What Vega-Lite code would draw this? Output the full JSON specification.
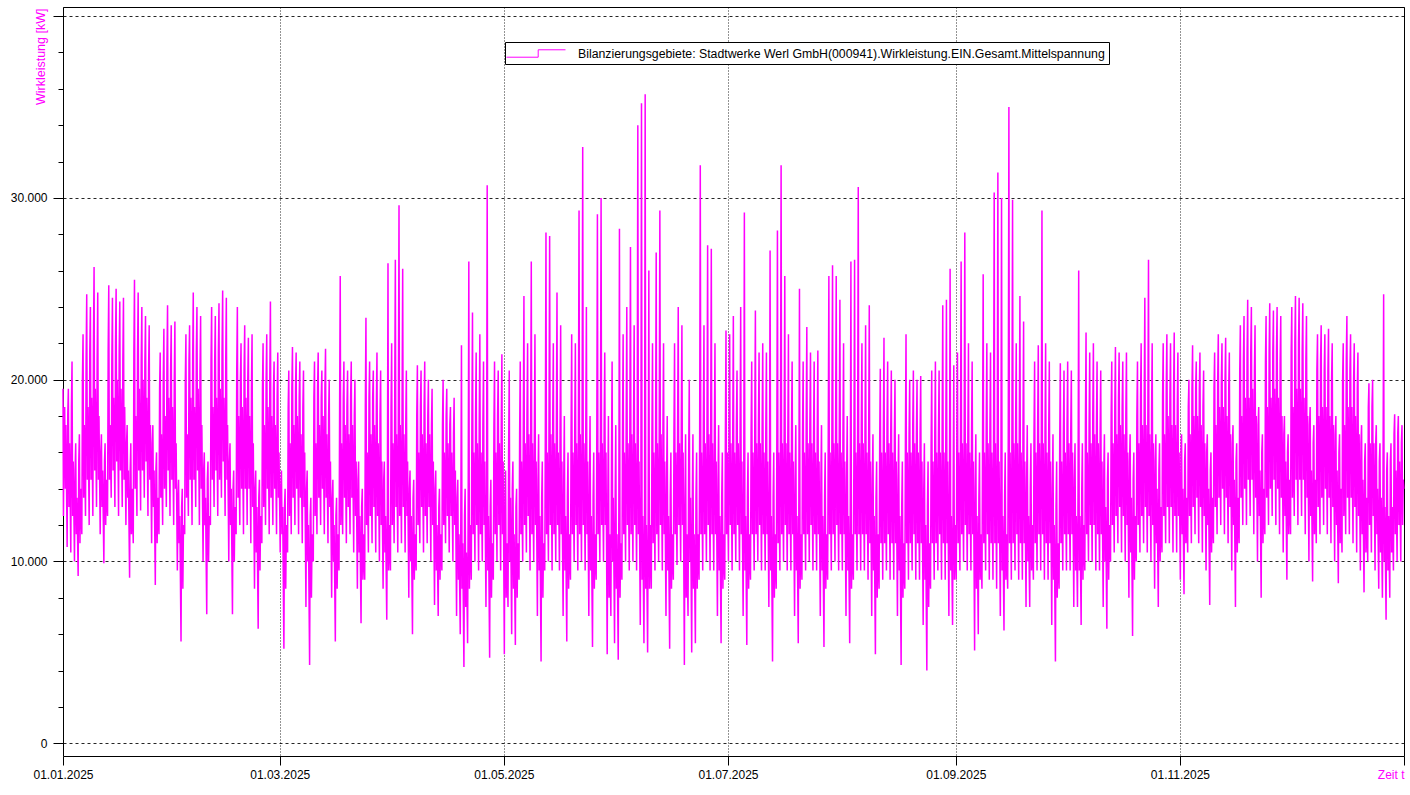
{
  "$schema": "https://vega.github.io/schema/vega-lite/v6.json",
  "width": 1341,
  "height": 749,
  "autosize": {"type": "none"},
  "padding": {"left": 63, "top": 7, "right": 6, "bottom": 39},
  "background": "white",
  "config": {
    "view": {"stroke": "black", "strokeWidth": 1},
    "font": "Liberation Sans",
    "axis": {"labelFont": "Liberation Sans", "labelFontSize": 12, "labelColor": "black", "tickColor": "black", "domainColor": "black", "titleFont": "Liberation Sans"}
  },
  "data": {
    "values": "t,v\n25010100,19500\n25010103,12500\n25010107,18000\n25010111,18500\n25010115,14000\n25010119,17500\n25010203,10800\n25010207,18000\n25010211,19500\n25010215,13000\n25010219,16500\n25010303,10500\n25010307,18500\n25010311,21000\n25010315,12500\n25010319,15500\n25010403,10000\n25010407,15000\n25010411,16500\n25010415,11500\n25010419,13500\n25010503,9200\n25010507,15500\n25010511,17000\n25010515,11000\n25010519,14000\n25010603,11500\n25010607,20000\n25010611,22500\n25010615,13500\n25010619,17500\n25010703,12500\n25010707,21000\n25010711,24700\n25010715,14500\n25010719,18500\n25010803,12000\n25010807,21500\n25010811,24000\n25010815,14500\n25010819,19000\n25010903,12500\n25010907,22000\n25010911,26200\n25010915,15000\n25010919,19500\n25011003,13000\n25011007,21000\n25011011,24800\n25011015,14500\n25011019,18000\n25011103,11500\n25011107,16000\n25011111,17000\n25011115,13000\n25011119,15000\n25011203,9900\n25011207,15500\n25011211,16500\n25011215,12000\n25011219,14500\n25011303,12500\n25011307,21500\n25011311,25200\n25011315,14500\n25011319,17500\n25011403,13500\n25011407,21000\n25011411,24500\n25011415,15000\n25011419,19000\n25011503,13000\n25011507,22000\n25011511,25000\n25011515,15500\n25011519,20000\n25011603,12500\n25011607,21500\n25011611,24300\n25011615,15000\n25011619,19500\n25011703,13000\n25011707,21000\n25011711,24500\n25011715,14500\n25011719,18500\n25011803,12000\n25011807,16500\n25011811,17500\n25011815,13500\n25011819,15000\n25011903,9100\n25011907,15000\n25011911,16500\n25011915,11500\n25011919,14000\n25012003,11000\n25012007,21500\n25012011,25500\n25012015,14000\n25012019,18000\n25012103,12500\n25012107,21500\n25012111,24800\n25012115,15000\n25012119,19500\n25012203,12800\n25012207,21000\n25012211,24000\n25012215,15000\n25012219,20000\n25012303,13500\n25012307,21000\n25012311,23500\n25012315,15500\n25012319,19000\n25012403,12500\n25012407,20500\n25012411,23000\n25012415,14500\n25012419,17500\n25012503,11000\n25012507,16500\n25012511,17500\n25012515,13000\n25012519,15000\n25012603,8700\n25012607,15000\n25012611,16000\n25012615,11000\n25012619,13500\n25012703,11500\n25012707,19500\n25012711,21500\n25012715,13500\n25012719,17000\n25012803,12000\n25012807,20000\n25012811,22800\n25012815,14000\n25012819,18000\n25012903,13000\n25012907,21000\n25012911,24100\n25012915,15000\n25012919,19000\n25013003,12500\n25013007,20500\n25013011,23000\n25013015,14500\n25013019,18500\n25013103,12000\n25013107,20000\n25013111,23200\n25013115,14000\n25013119,16500\n25020103,9500\n25020107,13500\n25020111,14500\n25020115,11000\n25020119,12500\n25020203,5600\n25020207,13000\n25020211,14000\n25020215,8500\n25020219,12000\n25020303,11500\n25020307,20000\n25020311,22500\n25020315,13500\n25020319,17000\n25020403,12500\n25020407,21000\n25020411,23000\n25020415,14500\n25020419,19000\n25020503,12000\n25020507,21000\n25020511,24800\n25020515,14500\n25020519,18500\n25020603,13000\n25020607,21500\n25020611,24000\n25020615,15000\n25020619,19500\n25020703,12000\n25020707,20500\n25020711,23500\n25020715,14000\n25020719,17500\n25020803,10000\n25020807,15000\n25020811,16000\n25020815,12000\n25020819,13500\n25020903,7100\n25020907,14500\n25020911,15500\n25020915,10000\n25020919,12500\n25021003,12000\n25021007,21000\n25021011,24000\n25021015,14500\n25021019,18500\n25021103,13000\n25021107,21000\n25021111,23500\n25021115,15000\n25021119,19000\n25021203,12500\n25021207,21500\n25021211,24200\n25021215,14500\n25021219,19500\n25021303,13500\n25021307,21500\n25021311,24900\n25021315,15500\n25021319,19000\n25021403,12500\n25021407,21000\n25021411,24500\n25021415,14500\n25021419,17500\n25021503,10000\n25021507,15500\n25021511,16500\n25021515,12000\n25021519,14000\n25021603,7100\n25021607,14000\n25021611,15000\n25021615,10000\n25021619,13000\n25021703,11500\n25021707,20500\n25021711,24000\n25021715,13500\n25021719,18000\n25021803,12000\n25021807,20000\n25021811,22000\n25021815,14000\n25021819,18500\n25021903,11500\n25021907,20500\n25021911,23000\n25021915,14000\n25021919,19000\n25022003,12000\n25022007,20000\n25022011,22300\n25022015,14000\n25022019,18000\n25022103,11000\n25022107,19500\n25022111,22500\n25022115,13000\n25022119,16500\n25022203,8500\n25022207,14000\n25022211,15000\n25022215,10500\n25022219,13000\n25022303,6300\n25022307,13500\n25022311,14500\n25022315,9500\n25022319,12500\n25022403,11000\n25022407,19500\n25022411,22000\n25022415,13000\n25022419,17500\n25022503,12000\n25022507,20000\n25022511,22500\n25022515,14000\n25022519,18500\n25022603,11500\n25022607,20000\n25022611,24300\n25022615,13500\n25022619,18000\n25022703,12000\n25022707,19500\n25022711,21000\n25022715,14000\n25022719,17500\n25022803,11500\n25022807,19000\n25022811,21500\n25022815,13500\n25022819,16000\n25030103,10500\n25030107,14000\n25030111,15000\n25030115,11500\n25030119,13000\n25030203,5200\n25030207,13000\n25030211,14000\n25030215,8500\n25030219,12000\n25030303,10500\n25030307,18500\n25030311,20500\n25030315,12500\n25030319,16500\n25030403,11500\n25030407,19500\n25030411,21800\n25030415,13500\n25030419,17500\n25030503,12000\n25030507,19500\n25030511,21500\n25030515,14000\n25030519,18000\n25030603,11500\n25030607,19000\n25030611,21000\n25030615,13500\n25030619,17000\n25030703,11000\n25030707,18500\n25030711,20500\n25030715,13000\n25030719,16000\n25030803,7500\n25030807,14000\n25030811,15000\n25030815,10000\n25030819,12000\n25030903,4300\n25030907,12500\n25030911,13500\n25030915,8000\n25030919,11500\n25031003,10000\n25031007,19000\n25031011,21000\n25031015,12500\n25031019,16500\n25031103,11500\n25031107,19500\n25031111,21500\n25031115,13500\n25031119,17500\n25031203,12000\n25031207,19000\n25031211,20500\n25031215,14000\n25031219,18000\n25031303,11500\n25031307,19500\n25031311,21700\n25031315,13500\n25031319,17000\n25031403,11000\n25031407,18000\n25031411,20000\n25031415,13000\n25031419,15500\n25031503,8000\n25031507,13500\n25031511,14500\n25031515,10000\n25031519,12000\n25031603,5600\n25031607,12500\n25031611,13500\n25031615,8500\n25031619,11500\n25031703,9500\n25031707,18500\n25031711,25700\n25031715,12000\n25031719,16500\n25031803,11500\n25031807,19000\n25031811,21000\n25031815,13500\n25031819,17500\n25031903,11000\n25031907,18500\n25031911,20500\n25031915,13000\n25031919,17000\n25032003,11500\n25032007,19000\n25032011,21000\n25032015,13500\n25032019,17500\n25032103,10500\n25032107,18000\n25032111,20000\n25032115,12500\n25032119,15500\n25032203,8500\n25032207,14500\n25032211,15500\n25032215,10500\n25032219,12500\n25032303,6600\n25032307,13000\n25032311,14000\n25032315,9000\n25032319,11500\n25032403,9000\n25032407,18500\n25032411,23400\n25032415,12000\n25032419,16000\n25032503,10500\n25032507,19000\n25032511,21000\n25032515,12500\n25032519,17000\n25032603,11000\n25032607,19000\n25032611,20500\n25032615,13000\n25032619,17500\n25032703,10500\n25032707,18500\n25032711,21500\n25032715,12500\n25032719,16500\n25032803,10000\n25032807,18000\n25032811,20500\n25032815,12000\n25032819,15500\n25032903,8500\n25032907,14500\n25032911,15500\n25032915,10500\n25032919,12500\n25033003,6800\n25033007,13500\n25033011,26400\n25033015,9500\n25033019,12000\n25033103,9500\n25033107,18500\n25033111,22000\n25033115,12000\n25033119,16500\n25040103,11000\n25040107,19000\n25040111,26600\n25040115,13000\n25040119,17000\n25040203,10500\n25040207,19000\n25040211,29600\n25040215,12500\n25040219,17500\n25040303,11000\n25040307,18500\n25040311,26100\n25040315,13000\n25040319,17000\n25040403,10500\n25040407,17500\n25040411,20500\n25040415,12500\n25040419,15500\n25040503,8000\n25040507,14000\n25040511,15000\n25040515,10000\n25040519,12500\n25040603,6000\n25040607,13500\n25040611,14500\n25040615,9000\n25040619,11500\n25040703,9500\n25040707,18000\n25040711,20800\n25040715,12000\n25040719,16000\n25040803,11000\n25040807,18500\n25040811,20500\n25040815,13000\n25040819,17000\n25040903,10500\n25040907,18500\n25040911,21000\n25040915,12500\n25040919,16500\n25041003,11000\n25041007,18000\n25041011,20000\n25041015,13000\n25041019,17000\n25041103,10000\n25041107,17500\n25041111,19500\n25041115,12000\n25041119,15500\n25041203,7600\n25041207,14000\n25041211,15000\n25041215,9500\n25041219,12000\n25041303,7000\n25041307,13000\n25041311,14000\n25041315,9000\n25041319,11500\n25041403,9500\n25041407,17500\n25041411,20000\n25041415,12000\n25041419,16000\n25041503,11000\n25041507,18000\n25041511,19500\n25041515,12500\n25041519,16500\n25041603,10500\n25041607,17500\n25041611,18500\n25041615,12500\n25041619,16000\n25041703,10000\n25041707,17000\n25041711,19000\n25041715,12000\n25041719,15000\n25041803,7000\n25041807,13500\n25041811,14500\n25041815,9000\n25041819,11500\n25041903,6000\n25041907,13000\n25041911,21900\n25041915,8500\n25041919,11000\n25042003,4200\n25042007,12500\n25042011,14000\n25042015,7500\n25042019,10500\n25042103,5500\n25042107,13500\n25042111,26500\n25042115,8500\n25042119,12000\n25042203,9000\n25042207,17500\n25042211,23700\n25042215,11500\n25042219,16000\n25042303,10000\n25042307,18000\n25042311,21500\n25042315,12000\n25042319,16500\n25042403,9500\n25042407,17500\n25042411,22500\n25042415,11500\n25042419,16000\n25042503,10000\n25042507,17500\n25042511,21000\n25042515,12000\n25042519,15500\n25042603,7500\n25042607,14000\n25042611,30700\n25042615,9500\n25042619,12500\n25042703,4700\n25042707,13000\n25042711,14500\n25042715,8000\n25042719,11000\n25042803,9000\n25042807,17500\n25042811,21000\n25042815,11500\n25042819,16000\n25042903,10000\n25042907,18000\n25042911,20500\n25042915,12000\n25042919,16500\n25043003,9500\n25043007,17500\n25043011,21400\n25043015,11500\n25043019,15500\n25050103,4900\n25050107,13500\n25050111,15000\n25050115,8000\n25050119,11000\n25050203,7500\n25050207,16000\n25050211,20500\n25050215,10000\n25050219,13500\n25050303,6000\n25050307,14000\n25050311,15500\n25050315,8500\n25050319,11500\n25050403,5400\n25050407,13000\n25050411,14000\n25050415,8000\n25050419,11000\n25050503,9000\n25050507,17000\n25050511,21000\n25050515,11500\n25050519,15500\n25050603,10000\n25050607,17500\n25050611,24600\n25050615,12000\n25050619,16500\n25050703,10500\n25050707,18000\n25050711,22000\n25050715,12500\n25050719,17000\n25050803,9500\n25050807,17500\n25050811,26500\n25050815,11500\n25050819,16500\n25050903,10000\n25050907,17000\n25050911,22500\n25050915,12000\n25050919,15500\n25051003,7000\n25051007,14500\n25051011,17000\n25051015,9500\n25051019,12500\n25051103,4500\n25051107,13500\n25051111,15500\n25051115,8000\n25051119,11000\n25051203,9500\n25051207,17500\n25051211,28100\n25051215,11500\n25051219,16000\n25051303,10000\n25051307,18000\n25051311,27900\n25051315,12000\n25051319,17000\n25051403,9500\n25051407,17500\n25051411,22000\n25051415,11500\n25051419,16500\n25051503,10000\n25051507,17500\n25051511,24800\n25051515,12000\n25051519,16000\n25051603,9500\n25051607,17000\n25051611,23000\n25051615,11500\n25051619,15500\n25051703,7000\n25051707,14500\n25051711,18000\n25051715,9500\n25051719,12500\n25051803,5600\n25051807,13500\n25051811,16000\n25051815,8500\n25051819,11500\n25051903,9000\n25051907,17000\n25051911,22500\n25051915,11500\n25051919,16000\n25052003,10000\n25052007,17500\n25052011,22000\n25052015,12000\n25052019,16500\n25052103,9500\n25052107,17500\n25052111,29300\n25052115,11500\n25052119,17000\n25052203,10000\n25052207,17500\n25052211,32800\n25052215,12000\n25052219,16500\n25052303,9500\n25052307,17000\n25052311,24000\n25052315,11500\n25052319,15500\n25052403,7000\n25052407,14500\n25052411,18000\n25052415,9500\n25052419,12500\n25052503,5300\n25052507,13500\n25052511,16000\n25052515,8500\n25052519,11500\n25052603,9000\n25052607,17000\n25052611,29100\n25052615,11500\n25052619,16000\n25052703,10000\n25052707,17500\n25052711,30000\n25052715,12000\n25052719,16500\n25052803,10000\n25052807,17500\n25052811,21500\n25052815,12000\n25052819,16000\n25052903,4900\n25052907,13500\n25052911,18000\n25052915,8000\n25052919,11500\n25053003,7000\n25053007,15500\n25053011,21000\n25053015,10000\n25053019,13500\n25053103,5500\n25053107,13500\n25053111,17500\n25053115,8500\n25053119,11500\n25060103,4600\n25060107,13000\n25060111,28300\n25060115,8000\n25060119,11000\n25060203,9000\n25060207,17000\n25060211,22500\n25060215,11500\n25060219,16000\n25060303,10000\n25060307,17500\n25060311,24000\n25060315,12000\n25060319,16500\n25060403,9500\n25060407,17500\n25060411,27300\n25060415,11500\n25060419,17000\n25060503,10000\n25060507,17500\n25060511,23000\n25060515,12000\n25060519,16500\n25060603,9500\n25060607,17000\n25060611,34000\n25060615,11500\n25060619,15500\n25060703,6500\n25060707,14000\n25060711,35200\n25060715,9000\n25060719,12500\n25060803,5500\n25060807,13500\n25060811,35700\n25060815,8500\n25060819,12000\n25060903,5000\n25060907,13500\n25060911,26000\n25060915,8500\n25060919,12000\n25061003,8500\n25061007,16500\n25061011,22000\n25061015,11000\n25061019,16000\n25061103,9500\n25061107,17000\n25061111,27000\n25061115,11500\n25061119,16500\n25061203,10000\n25061207,17500\n25061211,29300\n25061215,12000\n25061219,17000\n25061303,9500\n25061307,17000\n25061311,22000\n25061315,11500\n25061319,15500\n25061403,7000\n25061407,14500\n25061411,18000\n25061415,9500\n25061419,12500\n25061503,5200\n25061507,13500\n25061511,16000\n25061515,8500\n25061519,11500\n25061603,9000\n25061607,17000\n25061611,22000\n25061615,11500\n25061619,16000\n25061703,9800\n25061707,17500\n25061711,24000\n25061715,12000\n25061719,16500\n25061803,10000\n25061807,17500\n25061811,23000\n25061815,12000\n25061819,16000\n25061903,4300\n25061907,13500\n25061911,17000\n25061915,8000\n25061919,11500\n25062003,7000\n25062007,15500\n25062011,20000\n25062015,10000\n25062019,13500\n25062103,5000\n25062107,13500\n25062111,17000\n25062115,8500\n25062119,11500\n25062203,5500\n25062207,13500\n25062211,16000\n25062215,8500\n25062219,11500\n25062303,9000\n25062307,17000\n25062311,31800\n25062315,11500\n25062319,16000\n25062403,9500\n25062407,17500\n25062411,23000\n25062415,11500\n25062419,16500\n25062503,10000\n25062507,17500\n25062511,27400\n25062515,12000\n25062519,17000\n25062603,9500\n25062607,17500\n25062611,27200\n25062615,11500\n25062619,16500\n25062703,9500\n25062707,17000\n25062711,22000\n25062715,11500\n25062719,15500\n25062803,7000\n25062807,14500\n25062811,17500\n25062815,9500\n25062819,12500\n25062903,5500\n25062907,13500\n25062911,16000\n25062915,8500\n25062919,11500\n25063003,9000\n25063007,17000\n25063011,22700\n25063015,11500\n25063019,16000\n25070103,10000\n25070107,17500\n25070111,22500\n25070115,12000\n25070119,16500\n25070203,9500\n25070207,17000\n25070211,23500\n25070215,11500\n25070219,16000\n25070303,10000\n25070307,17500\n25070311,20500\n25070315,12000\n25070319,16500\n25070403,9500\n25070407,17000\n25070411,24000\n25070415,11500\n25070419,15500\n25070503,7000\n25070507,14500\n25070511,29200\n25070515,9500\n25070519,12500\n25070603,5400\n25070607,13500\n25070611,16000\n25070615,8500\n25070619,11500\n25070703,9000\n25070707,17000\n25070711,21000\n25070715,11500\n25070719,16000\n25070803,9500\n25070807,17500\n25070811,23800\n25070815,11500\n25070819,16500\n25070903,10000\n25070907,17500\n25070911,21500\n25070915,12000\n25070919,16500\n25071003,9500\n25071007,17000\n25071011,22000\n25071015,11500\n25071019,16000\n25071103,9500\n25071107,17000\n25071111,21500\n25071115,11500\n25071119,15500\n25071203,7500\n25071207,14500\n25071211,27100\n25071215,9500\n25071219,12500\n25071303,4500\n25071307,13500\n25071311,16000\n25071315,8000\n25071319,11500\n25071403,8500\n25071407,16500\n25071411,28200\n25071415,11000\n25071419,16000\n25071503,9500\n25071507,17500\n25071511,31800\n25071515,11500\n25071519,16500\n25071603,10000\n25071607,17500\n25071611,25700\n25071615,12000\n25071619,16500\n25071703,9500\n25071707,17000\n25071711,22500\n25071715,11500\n25071719,16000\n25071803,9500\n25071807,17000\n25071811,21000\n25071815,11500\n25071819,15500\n25071903,7000\n25071907,14500\n25071911,17500\n25071915,9500\n25071919,12500\n25072003,5500\n25072007,13500\n25072011,25000\n25072015,8500\n25072019,11500\n25072103,9000\n25072107,17000\n25072111,21000\n25072115,11500\n25072119,16000\n25072203,9500\n25072207,17500\n25072211,22900\n25072215,11500\n25072219,16500\n25072303,10000\n25072307,17500\n25072311,21500\n25072315,12000\n25072319,16500\n25072403,9500\n25072407,17000\n25072411,21000\n25072415,11500\n25072419,16000\n25072503,9500\n25072507,17000\n25072511,21600\n25072515,11500\n25072519,15500\n25072603,7000\n25072607,14500\n25072611,17500\n25072615,9500\n25072619,12500\n25072703,5300\n25072707,13500\n25072711,16000\n25072715,8500\n25072719,11500\n25072803,9000\n25072807,17000\n25072811,25700\n25072815,11500\n25072819,16000\n25072903,9500\n25072907,17500\n25072911,26300\n25072915,11500\n25072919,16500\n25073003,10000\n25073007,17500\n25073011,25700\n25073015,12000\n25073019,16500\n25073103,9500\n25073107,17000\n25073111,24400\n25073115,11500\n25073119,16000\n25080103,9500\n25080107,17000\n25080111,22000\n25080115,11500\n25080119,15500\n25080203,7000\n25080207,14500\n25080211,18000\n25080215,9500\n25080219,12500\n25080303,5500\n25080307,13500\n25080311,26500\n25080315,8500\n25080319,11500\n25080403,9000\n25080407,17000\n25080411,26600\n25080415,11500\n25080419,16000\n25080503,9500\n25080507,17500\n25080511,30600\n25080515,11500\n25080519,16500\n25080603,9500\n25080607,17500\n25080611,22000\n25080615,11500\n25080619,16500\n25080703,9500\n25080707,17000\n25080711,23000\n25080715,11500\n25080719,16000\n25080803,9000\n25080807,17000\n25080811,24100\n25080815,11000\n25080819,15500\n25080903,7000\n25080907,14500\n25080911,17000\n25080915,9500\n25080919,12500\n25081003,4900\n25081007,13500\n25081011,15500\n25081015,8000\n25081019,11500\n25081103,8500\n25081107,16500\n25081111,20600\n25081115,11000\n25081119,16000\n25081203,9000\n25081207,17000\n25081211,22300\n25081215,11000\n25081219,16000\n25081303,9500\n25081307,17500\n25081311,21000\n25081315,11500\n25081319,16500\n25081403,9000\n25081407,17000\n25081411,20500\n25081415,11000\n25081419,16000\n25081503,9000\n25081507,17000\n25081511,20000\n25081515,11000\n25081519,15500\n25081603,7000\n25081607,14500\n25081611,17000\n25081615,9500\n25081619,12500\n25081703,4300\n25081707,13000\n25081711,15500\n25081715,8000\n25081719,11000\n25081803,8500\n25081807,16500\n25081811,22500\n25081815,11000\n25081819,16000\n25081903,9000\n25081907,17000\n25081911,20000\n25081915,11000\n25081919,16000\n25082003,9500\n25082007,17500\n25082011,20500\n25082015,11500\n25082019,16500\n25082103,9000\n25082107,17000\n25082111,20000\n25082115,11000\n25082119,16000\n25082203,9000\n25082207,17000\n25082211,20200\n25082215,11000\n25082219,15500\n25082303,6500\n25082307,14000\n25082311,16500\n25082315,9000\n25082319,12000\n25082403,4000\n25082407,13000\n25082411,15500\n25082415,7500\n25082419,11000\n25082503,8500\n25082507,16500\n25082511,20500\n25082515,11000\n25082519,15500\n25082603,9000\n25082607,17000\n25082611,21000\n25082615,11000\n25082619,16000\n25082703,9500\n25082707,17000\n25082711,20500\n25082715,11500\n25082719,16000\n25082803,9000\n25082807,17000\n25082811,24100\n25082815,11000\n25082819,16000\n25082903,9000\n25082907,17000\n25082911,24400\n25082915,11000\n25082919,15500\n25083003,7000\n25083007,14500\n25083011,26100\n25083015,9500\n25083019,12500\n25083103,6500\n25083107,14000\n25083111,20800\n25083115,9000\n25083119,12000\n25090103,9000\n25090107,17000\n25090111,21500\n25090115,11000\n25090119,16000\n25090203,9500\n25090207,17500\n25090211,26500\n25090215,11500\n25090219,16500\n25090303,10000\n25090307,17500\n25090311,28100\n25090315,12000\n25090319,16500\n25090403,9500\n25090407,17000\n25090411,22000\n25090415,11500\n25090419,16000\n25090503,9500\n25090507,17000\n25090511,21000\n25090515,11500\n25090519,15500\n25090603,5100\n25090607,14000\n25090611,17000\n25090615,8500\n25090619,12500\n25090703,6000\n25090707,13500\n25090711,16000\n25090715,9000\n25090719,11500\n25090803,8500\n25090807,16500\n25090811,25800\n25090815,11000\n25090819,16000\n25090903,9500\n25090907,17500\n25090911,22000\n25090915,11500\n25090919,16500\n25091003,9000\n25091007,17000\n25091011,21500\n25091015,11000\n25091019,16000\n25091103,9000\n25091107,17500\n25091111,30300\n25091115,11000\n25091119,16500\n25091203,8500\n25091207,17000\n25091211,31400\n25091215,11000\n25091219,15500\n25091303,7000\n25091307,14500\n25091311,30000\n25091315,9500\n25091319,12500\n25091403,6200\n25091407,13500\n25091411,16000\n25091415,9000\n25091419,11500\n25091503,8500\n25091507,17000\n25091511,35000\n25091515,11000\n25091519,16000\n25091603,9000\n25091607,17500\n25091611,29900\n25091615,11000\n25091619,16500\n25091703,9500\n25091707,17500\n25091711,22000\n25091715,11500\n25091719,16500\n25091803,9000\n25091807,17000\n25091811,24600\n25091815,11000\n25091819,16000\n25091903,9000\n25091907,17000\n25091911,23200\n25091915,11000\n25091919,15500\n25092003,7500\n25092007,14500\n25092011,17500\n25092015,10000\n25092019,12500\n25092103,7500\n25092107,14000\n25092111,16500\n25092115,9500\n25092119,12000\n25092203,9000\n25092207,17000\n25092211,21000\n25092215,11000\n25092219,16000\n25092303,9500\n25092307,17500\n25092311,21900\n25092315,11500\n25092319,16500\n25092403,9500\n25092407,17500\n25092411,29300\n25092415,11500\n25092419,16500\n25092503,9000\n25092507,17000\n25092511,22000\n25092515,11000\n25092519,16000\n25092603,9000\n25092607,17000\n25092611,21000\n25092615,11000\n25092619,15500\n25092703,6500\n25092707,14000\n25092711,17000\n25092715,9000\n25092719,12000\n25092803,4500\n25092807,13000\n25092811,15500\n25092815,8000\n25092819,11000\n25092903,8500\n25092907,16500\n25092911,20900\n25092915,11000\n25092919,15500\n25093003,9500\n25093007,17000\n25093011,20500\n25093015,11500\n25093019,16000\n25100103,9500\n25100107,17500\n25100111,21000\n25100115,11500\n25100119,16500\n25100203,9500\n25100207,17000\n25100211,20500\n25100215,11500\n25100219,16000\n25100303,7500\n25100307,14500\n25100311,16500\n25100315,9500\n25100319,12500\n25100403,7500\n25100407,14500\n25100411,26000\n25100415,9500\n25100419,12500\n25100503,6500\n25100507,14000\n25100511,16500\n25100515,9000\n25100519,12000\n25100603,9500\n25100607,17500\n25100611,22600\n25100615,11500\n25100619,16000\n25100703,10000\n25100707,17500\n25100711,21500\n25100715,12000\n25100719,16500\n25100803,10000\n25100807,18000\n25100811,22000\n25100815,12000\n25100819,17000\n25100903,9500\n25100907,17500\n25100911,21000\n25100915,11500\n25100919,16500\n25101003,9500\n25101007,17000\n25101011,20500\n25101015,11500\n25101019,15500\n25101103,7500\n25101107,15000\n25101111,17000\n25101115,10000\n25101119,13000\n25101203,6300\n25101207,14500\n25101211,16000\n25101215,9000\n25101219,12000\n25101303,10000\n25101307,18000\n25101311,21000\n25101315,12000\n25101319,16500\n25101403,10500\n25101407,18500\n25101411,21800\n25101415,12500\n25101419,17000\n25101503,11000\n25101507,19000\n25101511,21500\n25101515,13000\n25101519,17500\n25101603,10500\n25101607,18500\n25101611,21000\n25101615,12500\n25101619,17000\n25101703,10000\n25101707,18000\n25101711,21500\n25101715,12000\n25101719,16000\n25101803,8000\n25101807,15500\n25101811,17000\n25101815,10500\n25101819,13500\n25101903,5900\n25101907,14500\n25101911,16000\n25101915,9000\n25101919,12500\n25102003,10000\n25102007,18000\n25102011,21000\n25102015,12000\n25102019,16500\n25102103,10500\n25102107,19000\n25102111,22000\n25102115,12500\n25102119,17500\n25102203,11000\n25102207,19000\n25102211,24500\n25102215,13000\n25102219,17500\n25102303,10500\n25102307,18500\n25102311,26600\n25102315,12500\n25102319,17000\n25102403,10000\n25102407,18000\n25102411,22000\n25102415,12000\n25102419,16500\n25102503,8500\n25102507,15500\n25102511,17000\n25102515,11000\n25102519,14000\n25102603,7500\n25102607,15000\n25102611,16500\n25102615,10000\n25102619,13000\n25102703,10500\n25102707,19000\n25102711,22000\n25102715,12500\n25102719,17000\n25102803,11000\n25102807,19500\n25102811,22500\n25102815,13000\n25102819,18000\n25102903,11000\n25102907,19000\n25102911,22000\n25102915,13000\n25102919,17500\n25103003,10500\n25103007,19500\n25103011,22600\n25103015,12500\n25103019,17500\n25103103,10500\n25103107,18500\n25103111,21500\n25103115,12500\n25103119,16000\n25110103,9000\n25110107,16000\n25110111,17000\n25110115,11500\n25110119,14000\n25110203,8200\n25110207,15500\n25110211,16500\n25110215,11000\n25110219,13500\n25110303,10500\n25110307,18500\n25110311,20000\n25110315,12500\n25110319,17000\n25110403,11000\n25110407,19500\n25110411,21900\n25110415,13000\n25110419,18000\n25110503,11500\n25110507,19500\n25110511,21000\n25110515,13500\n25110519,18000\n25110603,11000\n25110607,19500\n25110611,21500\n25110615,13000\n25110619,17500\n25110703,10500\n25110707,18500\n25110711,20500\n25110715,12500\n25110719,16500\n25110803,9500\n25110807,16000\n25110811,17000\n25110815,12000\n25110819,14000\n25110903,7600\n25110907,15000\n25110911,16000\n25110915,10500\n25110919,13500\n25111003,11000\n25111007,19500\n25111011,21500\n25111015,13000\n25111019,17500\n25111103,11500\n25111107,20000\n25111111,22500\n25111115,13500\n25111119,18500\n25111203,12000\n25111207,20000\n25111211,22000\n25111215,14000\n25111219,18500\n25111303,11500\n25111307,20000\n25111311,22300\n25111315,13500\n25111319,18000\n25111403,11000\n25111407,19500\n25111411,21500\n25111415,13000\n25111419,17000\n25111503,9500\n25111507,16500\n25111511,17500\n25111515,12000\n25111519,14500\n25111603,7500\n25111607,15500\n25111611,16500\n25111615,10500\n25111619,13500\n25111703,11000\n25111707,20500\n25111711,23000\n25111715,13500\n25111719,18000\n25111803,12000\n25111807,21000\n25111811,23500\n25111815,14000\n25111819,19000\n25111903,12000\n25111907,21500\n25111911,24400\n25111915,14500\n25111919,19000\n25112003,12500\n25112007,21500\n25112011,24000\n25112015,14500\n25112019,19500\n25112103,11500\n25112107,20500\n25112111,23000\n25112115,13500\n25112119,18000\n25112203,10000\n25112207,17500\n25112211,18500\n25112215,12500\n25112219,15000\n25112303,8000\n25112307,16000\n25112311,17000\n25112315,11000\n25112319,14000\n25112403,11500\n25112407,21000\n25112411,23500\n25112415,13500\n25112419,18500\n25112503,12000\n25112507,21500\n25112511,24200\n25112515,14000\n25112519,19000\n25112603,12500\n25112607,21500\n25112611,23800\n25112615,14500\n25112619,19500\n25112703,12000\n25112707,21500\n25112711,24000\n25112715,14000\n25112719,19000\n25112803,11500\n25112807,21000\n25112811,23500\n25112815,13500\n25112819,18000\n25112903,10500\n25112907,17000\n25112911,18000\n25112915,12500\n25112919,15500\n25113003,9000\n25113007,16000\n25113011,17000\n25113015,11500\n25113019,14500\n25120103,11500\n25120107,21500\n25120111,24000\n25120115,13500\n25120119,18500\n25120203,12500\n25120207,22000\n25120211,24600\n25120215,14500\n25120219,19500\n25120303,12000\n25120307,22000\n25120311,24500\n25120315,14500\n25120319,19500\n25120403,12500\n25120407,21500\n25120411,24200\n25120415,14500\n25120419,19000\n25120503,11500\n25120507,21000\n25120511,23500\n25120515,13500\n25120519,18000\n25120603,10000\n25120607,17500\n25120611,18500\n25120615,12500\n25120619,15000\n25120703,8900\n25120707,16500\n25120711,17500\n25120715,11500\n25120719,14500\n25120803,11000\n25120807,20500\n25120811,22500\n25120815,13000\n25120819,18000\n25120903,11500\n25120907,21000\n25120911,23000\n25120915,13500\n25120919,18500\n25121003,12000\n25121007,20500\n25121011,22500\n25121015,14000\n25121019,18500\n25121103,11500\n25121107,20500\n25121111,22800\n25121115,13500\n25121119,18000\n25121203,11000\n25121207,20000\n25121211,22000\n25121215,13000\n25121219,17500\n25121303,10000\n25121307,17000\n25121311,18000\n25121315,12000\n25121319,15000\n25121403,8800\n25121407,16000\n25121411,17000\n25121415,11000\n25121419,14000\n25121503,10500\n25121507,20000\n25121511,22000\n25121515,12500\n25121519,17500\n25121603,11500\n25121607,21000\n25121611,23500\n25121615,13500\n25121619,18500\n25121703,11500\n25121707,20500\n25121711,22500\n25121715,13500\n25121719,18500\n25121803,11000\n25121807,20000\n25121811,22000\n25121815,13000\n25121819,18000\n25121903,10500\n25121907,19500\n25121911,21500\n25121915,12500\n25121919,17000\n25122003,9500\n25122007,16500\n25122011,17500\n25122015,11500\n25122019,14500\n25122103,8300\n25122107,15500\n25122111,16500\n25122115,10500\n25122119,13500\n25122203,10000\n25122207,18500\n25122211,19800\n25122215,12000\n25122219,16500\n25122303,10500\n25122307,18500\n25122311,20000\n25122315,12500\n25122319,16500\n25122403,9500\n25122407,16500\n25122411,17500\n25122415,11500\n25122419,14000\n25122503,8500\n25122507,15500\n25122511,16500\n25122515,10500\n25122519,13500\n25122603,8000\n25122607,15000\n25122611,24700\n25122615,10000\n25122619,13000\n25122703,6800\n25122707,15000\n25122711,16000\n25122715,9500\n25122719,12500\n25122803,8000\n25122807,15500\n25122811,16500\n25122815,10500\n25122819,13000\n25122903,9500\n25122907,17000\n25122911,18100\n25122915,11500\n25122919,15000\n25123003,10000\n25123007,17000\n25123011,18000\n25123015,12000\n25123019,15500\n25123103,10000\n25123107,16500\n25123111,17500\n25123115,12000\n25123119,14500\n25123123,14000",
    "format": {"type": "csv", "parse": {"t": "date:'%y%m%d%H'", "v": "number"}}
  },
  "mark": {"type": "line", "strokeWidth": 1.5, "interpolate": "linear"},
  "encoding": {
    "x": {
      "field": "t",
      "type": "temporal",
      "scale": {"domain": [{"year": 2025, "month": 1, "date": 1}, {"year": 2026, "month": 1, "date": 1}]},
      "axis": {
        "title": null,
        "values": [
          {"year": 2025, "month": 1, "date": 1},
          {"year": 2025, "month": 3, "date": 1},
          {"year": 2025, "month": 5, "date": 1},
          {"year": 2025, "month": 7, "date": 1},
          {"year": 2025, "month": 9, "date": 1},
          {"year": 2025, "month": 11, "date": 1},
          {"year": 2026, "month": 1, "date": 1}
        ],
        "domain": false,
        "grid": true,
        "gridColor": "#000000",
        "gridDash": [1, 2],
        "gridOpacity": 0.85,
        "tickSize": 9,
        "labelPadding": 4,
        "labelFlush": false,
        "labelOverlap": false,
        "labelExpr": "year(datum.value) == 2026 ? 'Zeit t' : timeFormat(datum.value, '%d.%m.%Y')",
        "labelAlign": {"condition": {"test": "year(datum.value) == 2026", "value": "right"}, "value": "center"},
        "labelColor": {"condition": {"test": "year(datum.value) == 2026", "value": "#ff00ff"}, "value": "black"}
      }
    },
    "y": {
      "field": "v",
      "type": "quantitative",
      "scale": {"domain": [-700, 40500], "nice": false, "zero": false},
      "axis": {
        "values": [0, 2000, 4000, 6000, 8000, 10000, 12000, 14000, 16000, 18000, 20000, 22000, 24000, 26000, 28000, 30000, 32000, 34000, 36000, 38000, 40000],
        "title": "Wirkleistung [kW]",
        "titleColor": "#ff00ff",
        "titleFontSize": 12.5,
        "titleFontWeight": "normal",
        "titleAngle": 270,
        "titleAlign": "right",
        "titleBaseline": "middle",
        "titleX": -23,
        "titleY": 1,
        "domain": false,
        "grid": true,
        "gridColor": "#000000",
        "gridDash": [3, 3],
        "gridOpacity": {"condition": {"test": "datum.value % 10000 == 0", "value": 0.85}, "value": 0},
        "tickSize": {"condition": {"test": "datum.value % 10000 == 0", "value": 10}, "value": 5},
        "labelPadding": 6,
        "labelExpr": "datum.value % 10000 == 0 && datum.value < 40000 ? replace(format(datum.value, ','), ',', '.') : ''"
      }
    },
    "color": {
      "datum": "Bilanzierungsgebiete: Stadtwerke Werl GmbH(000941).Wirkleistung.EIN.Gesamt.Mittelspannung",
      "type": "nominal",
      "scale": {"range": ["#ff00ff"]},
      "legend": {
        "title": null,
        "orient": "none",
        "legendX": 442,
        "legendY": 35,
        "strokeColor": "black",
        "fillColor": "white",
        "padding": 4,
        "cornerRadius": 0,
        "symbolType": "M-1.43,0.53H3.1V-0.53H7",
        "symbolSize": 196,
        "symbolStrokeWidth": 1,
        "symbolFillColor": "transparent",
        "symbolStrokeColor": "#ff00ff",
        "labelFont": "Liberation Sans",
        "labelFontSize": 12.3,
        "labelColor": "black",
        "labelOffset": 54,
        "labelLimit": 1000
      }
    }
  }
}
